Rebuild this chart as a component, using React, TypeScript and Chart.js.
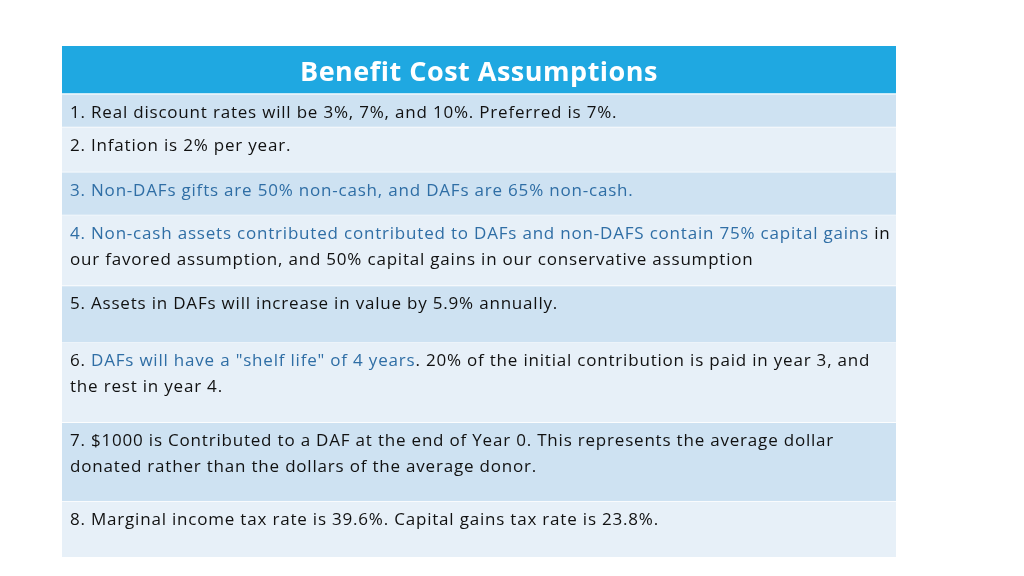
import React, { useEffect, useRef } from "react";
import { Chart, registerables } from "chart.js";

Chart.register(...registerables);

// Table content
const headerTitle = "Benefit Cost Assumptions";
const rowLabels = ["header", "r1", "r2", "r3", "r4", "r5", "r6", "r7", "r8"];
// relative row heights (table rows as stacked cells)
const rowSpans = [48, 33, 45, 43, 71, 57, 80, 79, 56];
const rowFills = ["#1fa8e1", "#cee2f2", "#e7f0f8", "#cee2f2", "#e7f0f8", "#cee2f2", "#e7f0f8", "#cee2f2", "#e7f0f8"];

const K = "#111111";
const B = "#2f6ea5";
// each row: lines; each line: segments [text, colorKey]
const rowTexts: [string, string][][][] = [
  [],
  [[["1. Real discount rates will be 3%, 7%, and 10%. Preferred is 7%.", K]]],
  [[["2. Infation is 2% per year.", K]]],
  [[["3. Non-DAFs gifts are 50% non-cash, and DAFs are 65% non-cash.", B]]],
  [
    [["4. Non-cash assets contributed contributed to DAFs and non-DAFS contain 75% capital gains", B], [" in", K]],
    [["our favored assumption, and 50% capital gains in our conservative assumption", K]],
  ],
  [[["5. Assets in DAFs will increase in value by 5.9% annually.", K]]],
  [
    [["6. ", K], ["DAFs will have a \"shelf life\" of 4 years", B], [". 20% of the initial contribution is paid in year 3, and", K]],
    [["the rest in year 4.", K]],
  ],
  [
    [["7. $1000 is Contributed to a DAF at the end of Year 0. This represents the average dollar", K]],
    [["donated rather than the dollars of the average donor.", K]],
  ],
  [[["8. Marginal income tax rate is 39.6%. Capital gains tax rate is 23.8%.", K]]],
];

const FONT = "'Open Sans', 'DejaVu Sans', sans-serif";

const textPlugin = {
  id: "tableText",
  afterDatasetsDraw(chart: any) {
    const ctx = chart.ctx;
    ctx.save();
    chart.data.datasets.forEach((_: any, i: number) => {
      const el = chart.getDatasetMeta(i).data[0] as any;
      if (!el) return;
      const top = Math.min(el.y, el.base);
      const left = el.x - el.width / 2;
      const right = el.x + el.width / 2;
      if (i === 0) {
        ctx.font = `bold 27px ${FONT}`;
        (ctx as any).letterSpacing = "0.5px";
        ctx.fillStyle = "#ffffff";
        ctx.textAlign = "center";
        ctx.textBaseline = "middle";
        ctx.fillText(headerTitle, (left + right) / 2, top + 27);
        return;
      }
      ctx.font = `17px ${FONT}`;
      (ctx as any).letterSpacing = "0.8px";
      ctx.textAlign = "left";
      ctx.textBaseline = "middle";
      rowTexts[i].forEach((line, li) => {
        let x = left + 8;
        const y = top + 19 + li * 26;
        line.forEach(([t, c]) => {
          ctx.fillStyle = c;
          ctx.fillText(t, x, y);
          x += ctx.measureText(t).width;
        });
      });
    });
    ctx.restore();
  },
};

export default function App() {
  const ref = useRef<HTMLCanvasElement>(null);
  useEffect(() => {
    if (!ref.current) return;
    const total = rowSpans.reduce((a, b) => a + b, 0);
    const chart = new Chart(ref.current, {
      type: "bar",
      data: {
        labels: ["table"],
        datasets: rowSpans.map((v, i) => ({
          label: rowLabels[i],
          data: [v],
          backgroundColor: rowFills[i],
          borderColor: "#ffffff",
          borderWidth: { top: i === 0 ? 0 : 1, bottom: i === 0 ? 1 : 0, left: 0, right: 0 },
          borderSkipped: false,
          barPercentage: 1,
          categoryPercentage: 1,
        })),
      },
      options: {
        animation: false,
        responsive: false,
        maintainAspectRatio: false,
        layout: { padding: { left: 62, right: 128, top: 46, bottom: 19 } },
        plugins: { legend: { display: false }, tooltip: { enabled: false } },
        scales: {
          x: { stacked: true, display: false, offset: true },
          y: { stacked: true, display: false, reverse: true, min: 0, max: total },
        },
      },
      plugins: [textPlugin],
    });
    return () => chart.destroy();
  }, []);
  return (
    <div style={{ position: "absolute", left: 0, top: 0, width: 1024, height: 576, background: "#fff" }}>
      <canvas ref={ref} width={1024} height={576} style={{ width: 1024, height: 576 }} />
    </div>
  );
}
